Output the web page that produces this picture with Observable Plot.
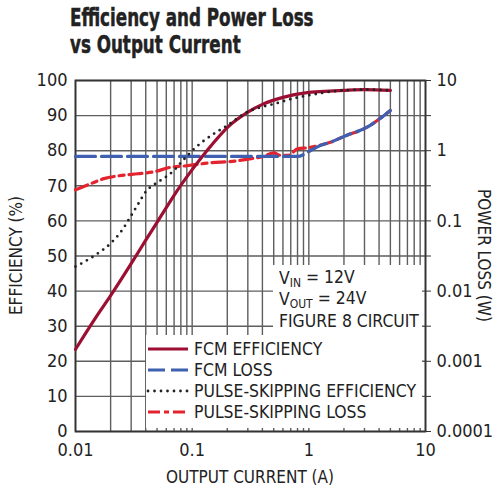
<!DOCTYPE html>
<html><head><meta charset="utf-8">
<script src="https://cdn.jsdelivr.net/npm/d3@7"></script>
<script src="https://cdn.jsdelivr.net/npm/@observablehq/plot@0.6"></script>
<style>
body{margin:0;background:#fff;}
#wrap{position:relative;width:493px;height:496px;font-family:"DejaVu Sans Condensed","Liberation Sans Narrow",sans-serif;color:#222;}
#title{position:absolute;left:70px;top:4px;font-family:"DejaVu Sans Condensed","DejaVu Sans",sans-serif;font-weight:bold;font-size:25.5px;line-height:27px;color:#222;-webkit-text-stroke:0.5px #222;transform:scaleX(0.73);transform-origin:0 0;white-space:nowrap;z-index:2;}
svg{position:absolute;left:0;top:0;}
</style></head><body>
<div id="wrap"><div id="title">Efficiency and Power Loss<br>vs Output Current</div></div>
<script>
// ---- data ----
const fcmEffCurrent = [0.01,0.012,0.015,0.02,0.03,0.04,0.05,0.06,0.07,0.1,0.15,0.2,0.3,0.4,0.6,1,1.5,2,3,5];
const fcmEff        = [23.4,27.6,32.6,38.7,47.8,54.5,59.6,63.8,67.3,74.6,82,86.6,91,93.2,95.2,96.6,97,97.2,97.4,97.2];

const pulseEffCurrent = [0.01,0.012,0.015,0.02,0.025,0.03,0.035,0.04,0.05,0.06,0.07,0.08,0.09,0.1,0.12,0.15,0.2,0.3,0.4,0.5,0.7,1,2,3,5];
const pulseEff        = [47,48.4,50.4,53.6,57.3,61.5,65.2,68.3,70.9,72.6,74.4,76.6,78.4,80,82.3,84.6,87.2,91.1,92.5,93.3,94.7,95.8,97.2,97.4,97.2];

const fcmLossCurrent = [0.01,0.1,0.5,0.8,1.03,1.26,1.53,2.1,3.16,4.05,5];
const fcmLoss        = [0.83,0.83,0.83,0.83,1.0,1.19,1.32,1.65,2.16,2.85,3.75];

const pulseLossCurrent = [0.01,0.0134,0.0175,0.025,0.034,0.047,0.065,0.09,0.14,0.23,0.32,0.41,0.5,0.57,0.67,0.8,0.97,1.26,1.53,2.1,3.16,4.05,5];
const pulseLoss        = [0.277,0.337,0.40,0.445,0.47,0.50,0.58,0.61,0.67,0.71,0.77,0.83,0.93,0.86,0.86,1.06,1.1,1.2,1.32,1.65,2.16,2.85,3.75];

const xTicks = [0.01,0.1,1,10];
const effTicks = [0,10,20,30,40,50,60,70,80,90,100];
const lossTicks = [0.0001,0.001,0.01,0.1,1,10];

const legendLabels = ["FCM EFFICIENCY","FCM LOSS","PULSE-SKIPPING EFFICIENCY","PULSE-SKIPPING LOSS"];
const noteLines = [["V","IN"," = 12V"],["V","OUT"," = 24V"],["FIGURE 8 CIRCUIT","",""]];

// ---- helpers ----
const lossToY = L => (Math.log10(L) + 4) * 20;   // map 0.0001..10 onto 0..100
const yToLoss = v => Math.pow(10, v/20 - 4);
const zip = (xs, ys, f = d => d) => xs.map((x,i) => ({x, y: f(ys[i])}));

const fcmEffData = zip(fcmEffCurrent, fcmEff);
const pulseEffData = zip(pulseEffCurrent, pulseEff);
const fcmLossData = zip(fcmLossCurrent, fcmLoss, lossToY);
const pulseLossData = zip(pulseLossCurrent, pulseLoss, lossToY);

const gridX = [];
for (let e = -2; e < 1; e++) for (let m = 1; m < 10; m++) gridX.push(m * Math.pow(10, e));
gridX.push(10);

const C = {fcmEff:"#9c0f32", fcmLoss:"#3f5fb0", pulseEff:"#222", pulseLoss:"#e3232e", grid:"#5e5e5e", frame:"#333"};
const FONT = '"DejaVu Sans Condensed","Liberation Sans Narrow",sans-serif';

const styles = {
  fcmEff: {stroke:C.fcmEff, strokeWidth:3.2},
  fcmLoss: {stroke:C.fcmLoss, strokeWidth:3.2, strokeDasharray:"20 6"},
  pulseEff: {stroke:C.pulseEff, strokeWidth:2.8, strokeDasharray:"0 6.5", strokeLinecap:"round"},
  pulseLoss: {stroke:C.pulseLoss, strokeWidth:3.2, strokeDasharray:"13 5 5 5"}
};

const chart = Plot.plot({
  width: 493, height: 496,
  marginLeft: 75, marginRight: 68, marginTop: 80, marginBottom: 65,
  style: {fontFamily: FONT, fontSize: "18px", color: "#222", background: "white"},
  x: {type: "log", domain: [0.01, 10]},
  y: {domain: [0, 100]},
  marks: [
    Plot.ruleX(gridX, {stroke: C.grid, strokeWidth: 1.4}),
    Plot.ruleY(effTicks, {stroke: C.grid, strokeWidth: 1.4}),
    Plot.frame({stroke: C.frame, strokeWidth: 1.8}),
    Plot.axisX({ticks: xTicks, tickFormat: d => String(d), tickSize: 0, tickPadding: 12, label: null, fontSize: 18}),
    Plot.axisY({ticks: effTicks, tickSize: 0, tickPadding: 8, label: null, fontSize: 18}),
    Plot.axisY({anchor: "right", ticks: effTicks, tickSize: 5, tickFormat: () => "", label: null, stroke: C.frame}),
    Plot.axisY({anchor: "right", ticks: lossTicks.map(lossToY), tickSize: 0, tickPadding: 11,
      tickFormat: v => { const L = yToLoss(v); return L >= 1 ? String(Math.round(L)) : L.toFixed(Math.round(-Math.log10(L))); },
      label: null, fontSize: 18}),
    Plot.line(pulseLossData, {x: "x", y: "y", curve: "monotone-x", ...styles.pulseLoss}),
    Plot.line(fcmLossData, {x: "x", y: "y", curve: "monotone-x", ...styles.fcmLoss}),
    Plot.line(fcmEffData, {x: "x", y: "y", curve: "monotone-x", ...styles.fcmEff}),
    Plot.line(pulseEffData, {x: "x", y: "y", curve: "monotone-x", ...styles.pulseEff})
  ]
});

const svg = d3.select(chart);
const L = 75, R = 425, T = 80, B = 431;

// white panels behind legend and note (cut the grid), inserted beneath the frame
const frameSel = '[aria-label="frame"]';
svg.insert("rect", frameSel).attr("x", 146).attr("y", 335).attr("width", 422 - 146).attr("height", 428 - 335).attr("fill", "white");
svg.insert("rect", frameSel).attr("x", 273).attr("y", 265).attr("width", 422 - 273).attr("height", 335 - 265).attr("fill", "white");

// axis titles
const titles = svg.append("g").attr("font-size", 17).attr("fill", "#222").attr("text-anchor", "middle");
titles.append("text").attr("x", (L+R)/2).attr("y", 483).text("OUTPUT CURRENT (A)");
titles.append("text").attr("transform", `translate(22,${(T+B)/2}) rotate(-90)`).text("EFFICIENCY (%)");
titles.append("text").attr("transform", `translate(478,${(T+B)/2}) rotate(90)`).text("POWER LOSS (W)");

// in-plot legend
const leg = svg.append("g").attr("font-size", 17.4).attr("fill", "#222").attr("text-anchor", "start");
const keys = ["fcmEff","fcmLoss","pulseEff","pulseLoss"];
const rowY = [349, 370, 391, 412];
keys.forEach((k, i) => {
  const s = styles[k];
  leg.append("line").attr("x1", 148).attr("x2", 188).attr("y1", rowY[i]).attr("y2", rowY[i])
    .attr("stroke", s.stroke).attr("stroke-width", s.strokeWidth)
    .attr("stroke-dasharray", k === "fcmLoss" ? "17 6" : k === "pulseLoss" ? "12 4 5 4" : s.strokeDasharray || null)
    .attr("stroke-linecap", s.strokeLinecap || null);
  leg.append("text").attr("x", 194).attr("y", rowY[i]).attr("dy", "0.36em").text(legendLabels[i]);
});

// conditions note
const note = svg.append("g").attr("font-size", 17.4).attr("fill", "#222").attr("text-anchor", "start");
const noteY = [278, 299, 321];
noteLines.forEach((parts, i) => {
  const t = note.append("text").attr("x", 279).attr("y", noteY[i]).attr("dy", "0.36em");
  t.append("tspan").text(parts[0]);
  if (parts[1]) {
    t.append("tspan").attr("font-size", 12).attr("dy", "0.22em").text(parts[1]);
    t.append("tspan").attr("dy", "-0.22em").text(parts[2]);
  }
});

document.getElementById("wrap").appendChild(chart);
</script>
</body></html>
